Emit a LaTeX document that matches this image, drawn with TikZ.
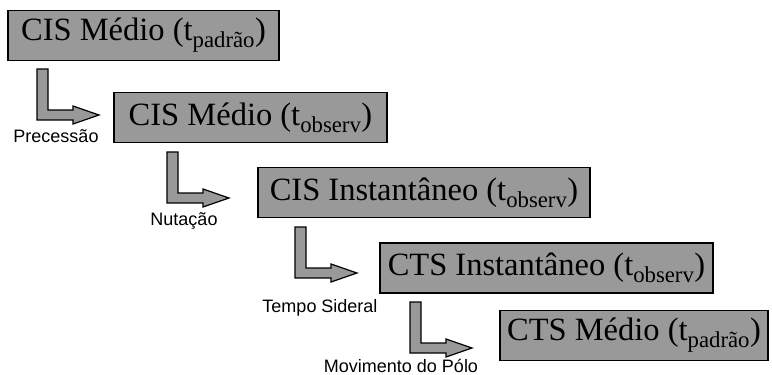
\documentclass[tikz,border=0pt]{standalone}
\usepackage{fontspec}
\setmainfont{Liberation Serif}
\newfontfamily\labelfont{Liberation Sans}
\begin{document}
\begin{tikzpicture}[x=1pt,y=-1pt,
  frame/.style={draw=black,line width=1.4pt,fill=boxgray,inner sep=0pt,
    minimum height=50pt,font=\fontsize{32.5}{36}\selectfont},
  steplabel/.style={font=\labelfont\fontsize{18}{20}\selectfont,inner sep=0pt},
  bendarrow/.pic={
    \draw[line width=1.2pt,fill=boxgray,line join=miter]
      (0,-46) -- (11,-46) -- (11,-5) -- (36,-5) -- (36,-9) -- (62,0)
      -- (36,9) -- (36,5) -- (0,5) -- cycle;
  }]
\definecolor{boxgray}{gray}{0.6}
\useasboundingbox (0,0) rectangle (772,375);

% reference frames
\node[frame,minimum width=271pt] (cisA) at (143.5,35.5) {CIS Médio (t\textsubscript{padrão})};
\node[frame,minimum width=273pt] (cisB) at (250.5,117.5) {CIS Médio (t\textsubscript{observ})};
\node[frame,minimum width=332pt] (cisC) at (424,192.5) {CIS Instantâneo (t\textsubscript{observ})};
\node[frame,minimum width=333pt] (ctsA) at (546.5,268) {CTS Instantâneo (t\textsubscript{observ})};
\node[frame,minimum width=268pt] (ctsB) at (634,335.5) {CTS Médio (t\textsubscript{padrão})};

% transformation steps
\coordinate (bendA) at (37,115);
\coordinate (bendB) at (167,198);
\coordinate (bendC) at (295,273);
\coordinate (bendD) at (410,348);
\pic at (bendA) {bendarrow};
\pic at (bendB) {bendarrow};
\pic at (bendC) {bendarrow};
\pic at (bendD) {bendarrow};

\node[steplabel] (lblA) at (56,136) {Precessão};
\node[steplabel] (lblB) at (184,221) {Nutação};
\node[steplabel] (lblC) at (320,308) {Tempo Sideral};
\node[steplabel] (lblD) at (401,366) {Movimento do Pólo};
\end{tikzpicture}
\end{document}
